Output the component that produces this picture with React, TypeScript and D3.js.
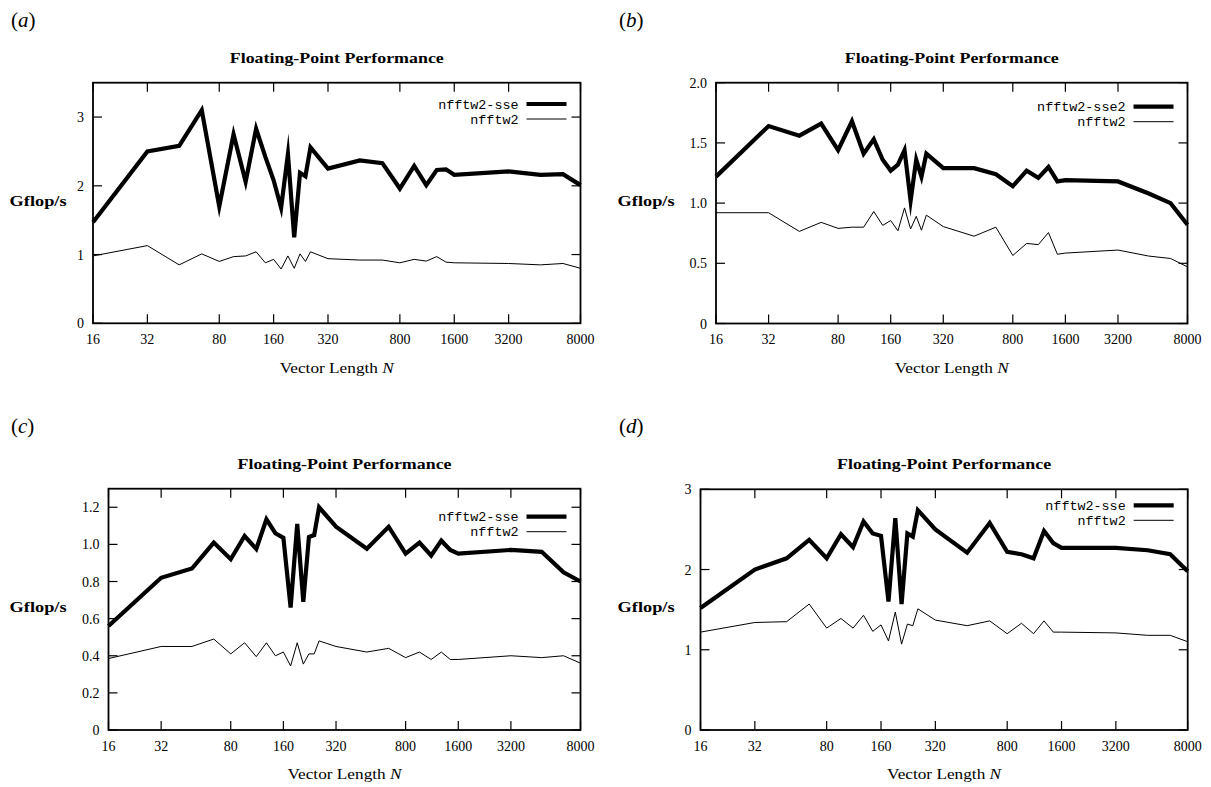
import * as d3 from 'd3';

// vector lengths N measured in every panel
const sizes = [16, 32, 48, 64, 80, 96, 112, 128, 144, 160, 176, 192, 208, 224, 240, 256, 320, 480, 640, 800, 960, 1120, 1280, 1440, 1600, 3200, 4800, 6400, 8000];
const xTickValues = [16, 32, 80, 160, 320, 800, 1600, 3200, 8000];

// (a)
const sseA = [1.47, 2.50, 2.58, 3.10, 1.70, 2.75, 2.06, 2.83, 2.42, 2.08, 1.68, 2.46, 1.25, 2.19, 2.14, 2.56, 2.25, 2.37, 2.33, 1.96, 2.29, 2.01, 2.23, 2.24, 2.16, 2.21, 2.16, 2.17, 2.01];
const plainA = [0.98, 1.13, 0.85, 1.01, 0.90, 0.97, 0.98, 1.04, 0.88, 0.93, 0.79, 0.98, 0.80, 1.01, 0.90, 1.04, 0.94, 0.92, 0.92, 0.88, 0.93, 0.905, 0.97, 0.89, 0.88, 0.87, 0.85, 0.87, 0.80];
// (b)
const sseB = [1.22, 1.64, 1.56, 1.66, 1.44, 1.68, 1.41, 1.53, 1.36, 1.27, 1.32, 1.44, 1.02, 1.36, 1.22, 1.41, 1.29, 1.29, 1.24, 1.14, 1.27, 1.21, 1.30, 1.18, 1.19, 1.18, 1.08, 1.00, 0.82];
const plainB = [0.92, 0.92, 0.765, 0.84, 0.79, 0.80, 0.80, 0.93, 0.815, 0.855, 0.77, 0.96, 0.785, 0.89, 0.775, 0.90, 0.805, 0.725, 0.80, 0.565, 0.665, 0.655, 0.755, 0.575, 0.585, 0.61, 0.56, 0.54, 0.47];
// (c)
const sseC = [0.56, 0.82, 0.87, 1.01, 0.92, 1.045, 0.975, 1.135, 1.06, 1.035, 0.66, 1.11, 0.69, 1.04, 1.05, 1.20, 1.095, 0.977, 1.095, 0.95, 1.01, 0.94, 1.02, 0.97, 0.95, 0.97, 0.96, 0.85, 0.80];
const plainC = [0.385, 0.45, 0.45, 0.49, 0.41, 0.47, 0.395, 0.47, 0.40, 0.42, 0.345, 0.47, 0.355, 0.41, 0.41, 0.48, 0.45, 0.42, 0.44, 0.39, 0.42, 0.38, 0.42, 0.38, 0.38, 0.40, 0.39, 0.40, 0.36];
// (d)
const sseD = [1.52, 2.00, 2.14, 2.37, 2.14, 2.44, 2.28, 2.60, 2.45, 2.42, 1.60, 2.64, 1.57, 2.45, 2.41, 2.74, 2.50, 2.21, 2.58, 2.22, 2.19, 2.14, 2.48, 2.33, 2.27, 2.27, 2.24, 2.19, 1.98];
const plainD = [1.22, 1.34, 1.35, 1.57, 1.27, 1.39, 1.27, 1.43, 1.23, 1.31, 1.11, 1.47, 1.07, 1.32, 1.30, 1.51, 1.37, 1.30, 1.36, 1.20, 1.33, 1.20, 1.36, 1.22, 1.22, 1.21, 1.18, 1.18, 1.10];

const yTicksInt = [0, 1, 2, 3];
const yLabelsInt = ['0', '1', '2', '3'];
const yTicksB = [0, 0.5, 1, 1.5, 2];
const yLabelsB = ['0', '0.5', '1.0', '1.5', '2.0'];
const yTicksC = [0, 0.2, 0.4, 0.6, 0.8, 1.0, 1.2];
const yLabelsC = ['0', '0.2', '0.4', '0.6', '0.8', '1.0', '1.2'];

const serif = '"Liberation Serif", "DejaVu Serif", serif';
const mono = '"Liberation Mono", "DejaVu Sans Mono", monospace';

const panels = [
  { letter: 'a', fast: 'nfftw2-sse', sse: sseA, plain: plainA, yMax: 3.5, yTicks: yTicksInt, yLabels: yLabelsInt,
    box: { left: 93, right: 580.5, top: 82.7, bottom: 323.3 }, ox: 0, oy: 0, keyTop: 21.3 },
  { letter: 'b', fast: 'nfftw2-sse2', sse: sseB, plain: plainB, yMax: 2, yTicks: yTicksB, yLabels: yLabelsB,
    box: { left: 716, right: 1187.5, top: 82.7, bottom: 323.5 }, ox: 608, oy: 0, keyTop: 24 },
  { letter: 'c', fast: 'nfftw2-sse', sse: sseC, plain: plainC, yMax: 1.3, yTicks: yTicksC, yLabels: yLabelsC,
    box: { left: 108.5, right: 580.5, top: 488.7, bottom: 730 }, ox: 0, oy: 406, keyTop: 28 },
  { letter: 'd', fast: 'nfftw2-sse', sse: sseD, plain: plainD, yMax: 3, yTicks: yTicksInt, yLabels: yLabelsInt,
    box: { left: 700.5, right: 1187.7, top: 489.3, bottom: 730 }, ox: 608, oy: 406, keyTop: 16 },
];

const Panel = ({ p }: { p: any }) => {
  const { left, right, top, bottom } = p.box;
  const x = d3.scaleLog().domain([16, 8000]).range([left, right]);
  const y = d3.scaleLinear().domain([0, p.yMax]).range([bottom, top]);
  const line = d3.line<number>()
    .x((_, i) => x(sizes[i]))
    .y(d => y(d));
  const cx = (left + right) / 2;
  const tl = 9;
  const keyY1 = top + p.keyTop;
  const keyY2 = keyY1 + 15;

  return (
    <g>
      <text x={p.ox + 11} y={p.oy + 26.5} fontFamily={serif} fontSize={21}>
        (<tspan fontStyle="italic">{p.letter}</tspan>)
      </text>
      <text x={cx} y={p.oy + 62.5} textAnchor="middle" fontFamily={serif} fontWeight="bold" fontSize={14.5}
        textLength={214} lengthAdjust="spacingAndGlyphs">Floating-Point Performance</text>
      <text x={p.ox + 9.6} y={p.oy + 206} fontFamily={serif} fontWeight="bold" fontSize={15}
        textLength={57} lengthAdjust="spacingAndGlyphs">Gflop/s</text>
      <text x={cx} y={p.oy + 373} textAnchor="middle" fontFamily={serif} fontSize={15}
        textLength={114} lengthAdjust="spacingAndGlyphs">
        Vector Length <tspan fontStyle="italic">N</tspan>
      </text>

      {/* frame */}
      <rect x={left} y={top} width={right - left} height={bottom - top} fill="none" stroke="#000" strokeWidth={1.8} />

      {/* x ticks, mirrored on top */}
      {xTickValues.map(t => (
        <g key={'x' + t}>
          <line x1={x(t)} x2={x(t)} y1={bottom} y2={bottom - tl} stroke="#000" strokeWidth={1.2} />
          <line x1={x(t)} x2={x(t)} y1={top} y2={top + tl} stroke="#000" strokeWidth={1.2} />
          <text x={x(t)} y={bottom + 20.5} textAnchor="middle" fontFamily={serif} fontSize={14}>{t}</text>
        </g>
      ))}

      {/* y ticks, mirrored on right */}
      {p.yTicks.map((t: number, i: number) => (
        <g key={'y' + t}>
          <line x1={left} x2={left + tl} y1={y(t)} y2={y(t)} stroke="#000" strokeWidth={1.2} />
          <line x1={right} x2={right - tl} y1={y(t)} y2={y(t)} stroke="#000" strokeWidth={1.2} />
          <text x={left - 9} y={y(t) + 5} textAnchor="end" fontFamily={serif} fontSize={14}>{p.yLabels[i]}</text>
        </g>
      ))}

      {/* data */}
      <path d={line(p.plain) || ''} fill="none" stroke="#000" strokeWidth={1} />
      <path d={line(p.sse) || ''} fill="none" stroke="#000" strokeWidth={4.2}
        strokeLinejoin="miter" strokeMiterlimit={10} />

      {/* key */}
      <text x={right - 62} y={keyY1 + 4.5} textAnchor="end" fontFamily={mono} fontSize={13.4}>{p.fast}</text>
      <line x1={right - 54} x2={right - 14} y1={keyY1} y2={keyY1} stroke="#000" strokeWidth={4.2} />
      <text x={right - 62} y={keyY2 + 4.5} textAnchor="end" fontFamily={mono} fontSize={13.4}>nfftw2</text>
      <line x1={right - 54} x2={right - 14} y1={keyY2} y2={keyY2} stroke="#000" strokeWidth={1} />
    </g>
  );
};

export default function App() {
  return (
    <svg width={1211} height={787} style={{ position: 'absolute', left: 0, top: 0, background: '#fff' }}>
      {panels.map(p => <Panel key={p.letter} p={p} />)}
    </svg>
  );
}
